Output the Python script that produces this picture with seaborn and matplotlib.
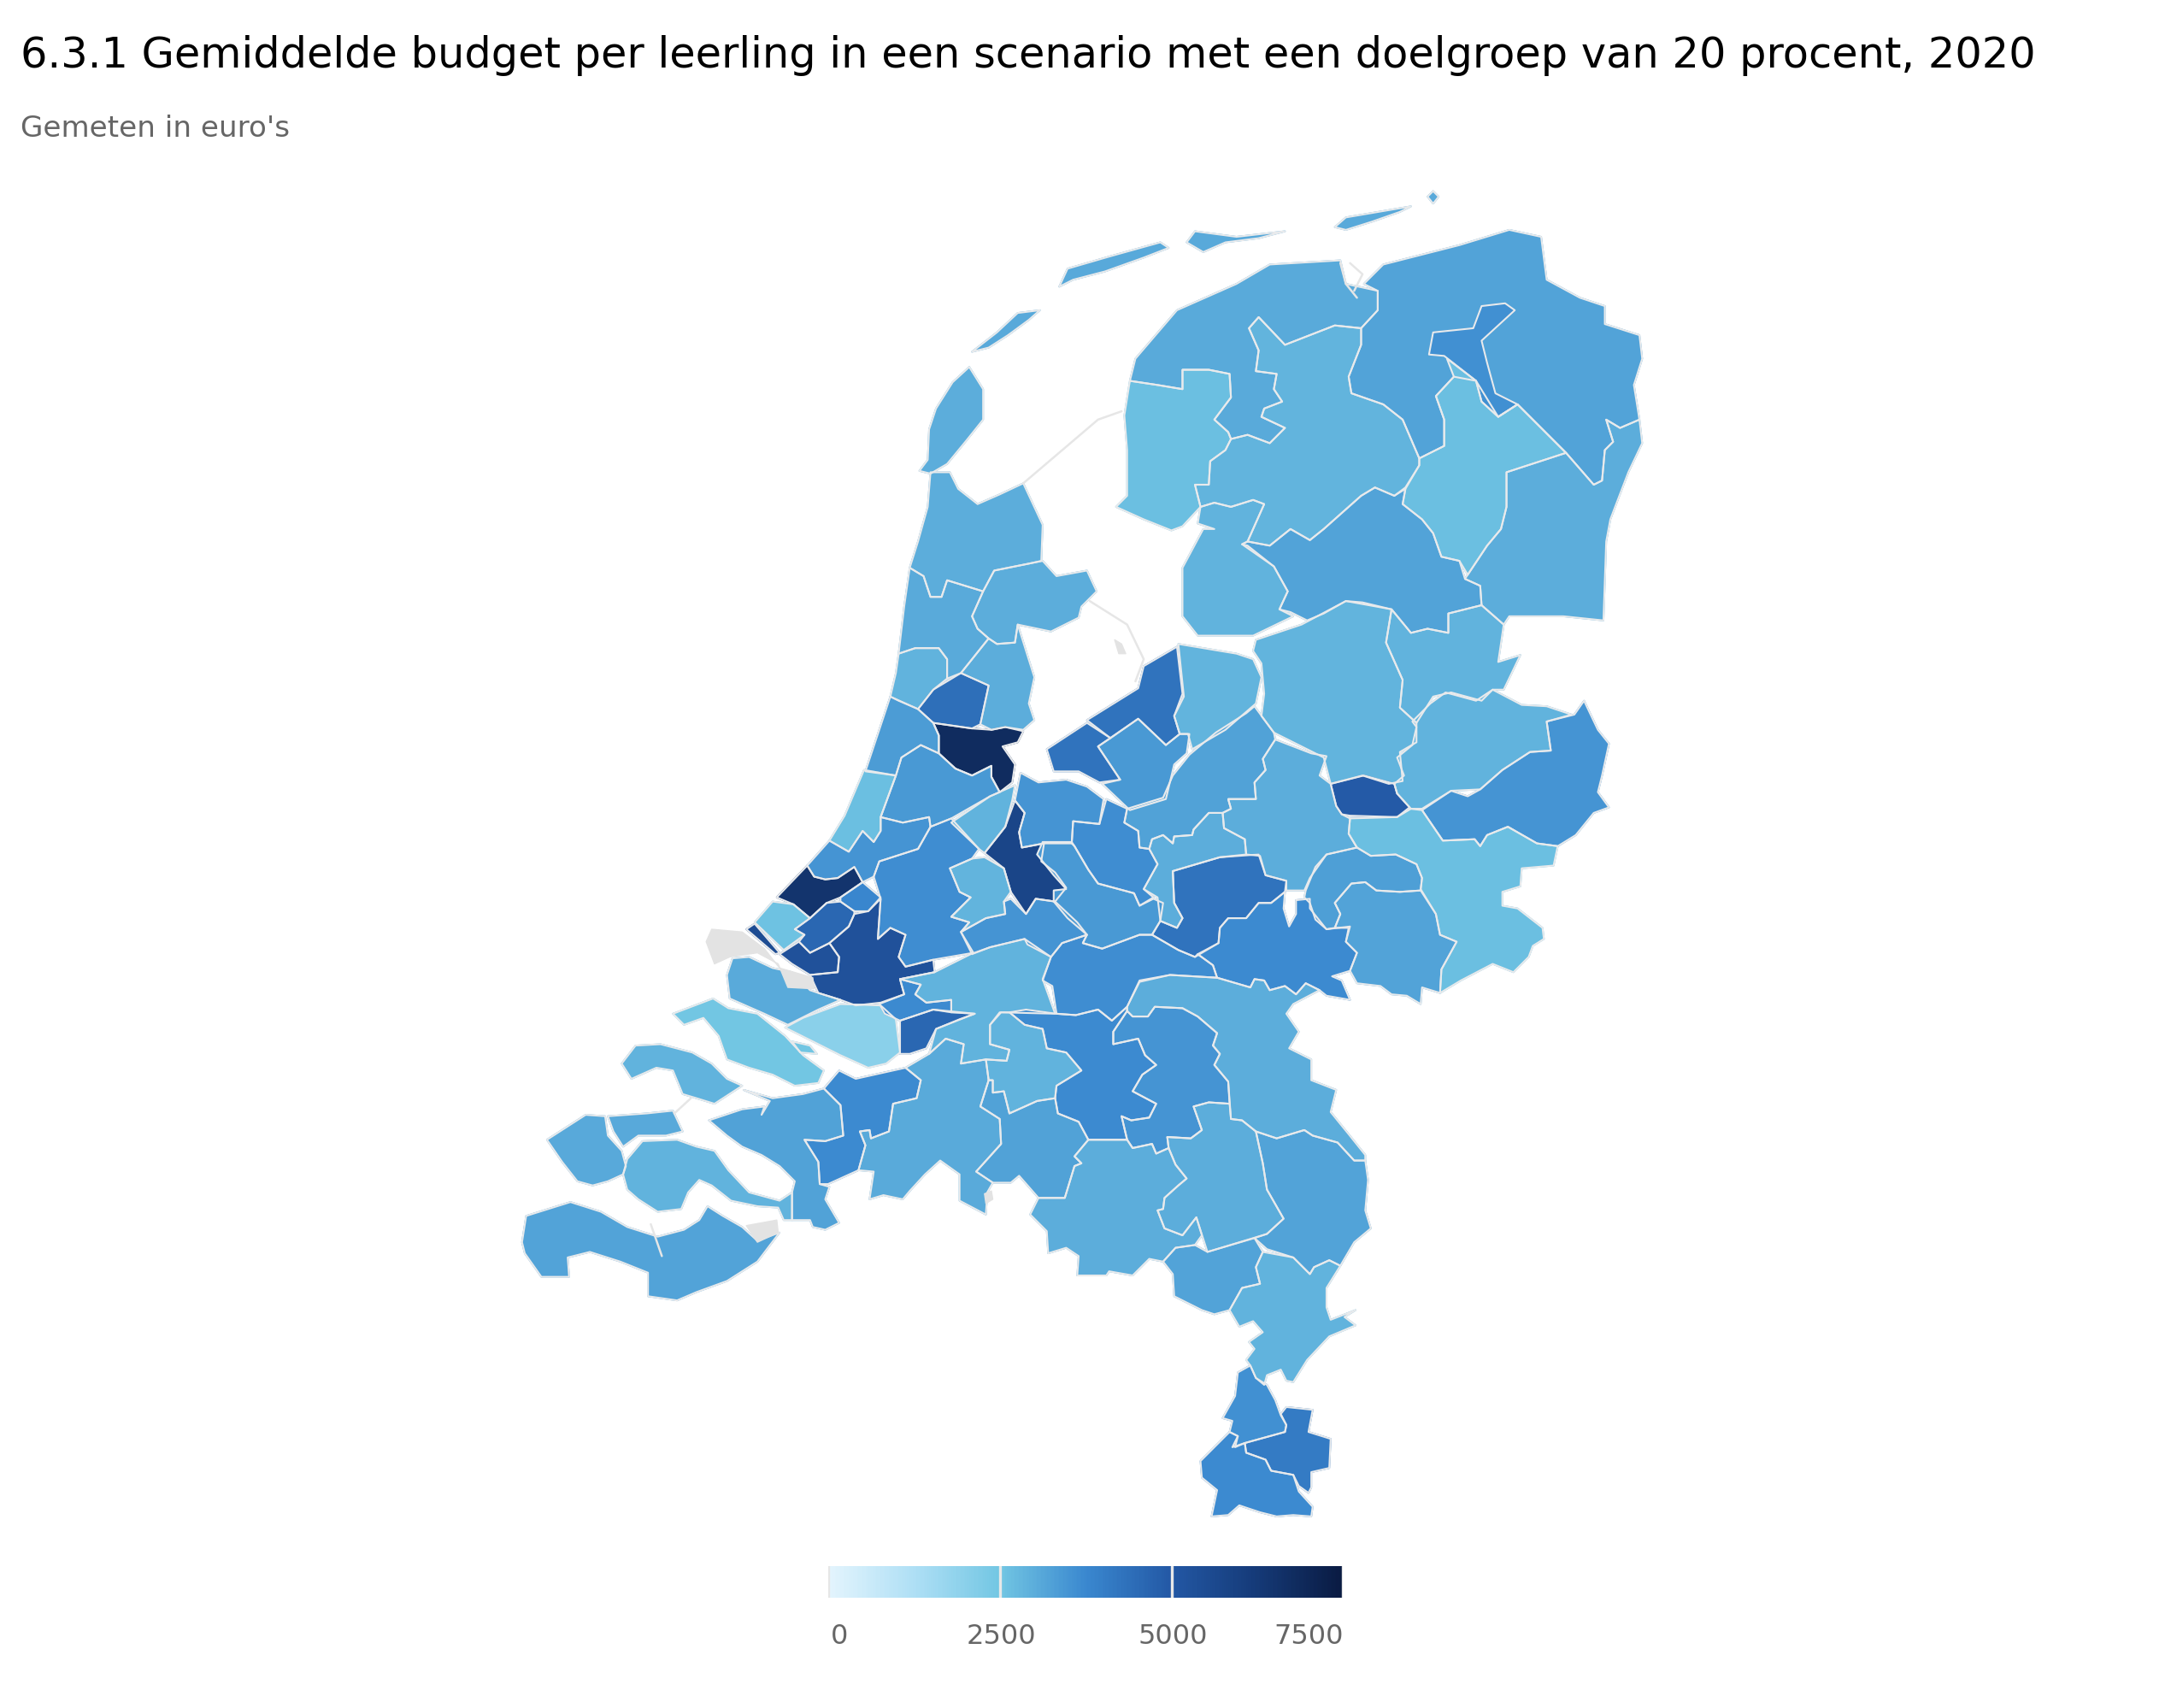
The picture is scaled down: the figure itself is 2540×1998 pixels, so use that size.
import numpy as np
import matplotlib
matplotlib.use("Agg")
import matplotlib.pyplot as plt
from matplotlib.collections import PolyCollection
from matplotlib.colors import Normalize
import seaborn as sns

TITLE = "6.3.1 Gemiddelde budget per leerling in een scenario met een doelgroep van 20 procent, 2020"
SUBTITLE = "Gemeten in euro's"
LEGEND_TICKS = [0, 2500, 5000, 7500]
LEGEND_COLORS = ["#e3f4fd", "#aedff5", "#72c6e3", "#3a88cf", "#2358a5", "#153a78", "#0a1b42"]

# budget per region
REGIONS = [
    "Texel", "Vlieland", "Terschelling", "Ameland", "Schiermonnikoog", "Rottum",
    "Friesland Noord", "Friesland Zuidwest", "Friesland Midden", "Groningen", "Stad Groningen",
    "Drenthe Noord", "Drenthe Zuid", "Zuidwest Drenthe", "Noordoostpolder",
    "Kop van Noord-Holland", "West-Friesland", "Alkmaar", "IJmond", "Waterland", "Zaanstad",
    "Amsterdam", "Haarlem", "Amstelland", "Bollenstreek", "Leiden", "Midden-Holland", "Den Haag",
    "Westland", "Hoek van Holland", "Zoetermeer", "Delft", "Rotterdam", "Vlaardingen", "Voorne",
    "Goeree-Overflakkee", "Tiengemeten", "Schouwen-Duiveland", "Noord-Beveland", "Walcheren", "Veere",
    "Zuid-Beveland", "Zeeuws-Vlaanderen", "West-Brabant", "Roosendaal", "Breda", "Dordrecht",
    "Alblasserwaard", "Gorinchem", "Tilburg", "Oosterhout", "Den Bosch", "Meierij", "Peel",
    "Eindhoven", "Helmond", "Noord-Limburg", "Weert", "Midden-Limburg", "Sittard", "Maastricht",
    "Heerlen", "Lelystad", "Almere", "Zeewolde", "Dronten", "Zwolle", "Veluwe Noord", "Apeldoorn",
    "Deventer", "Hardenberg", "Almelo", "Enschede", "Achterhoek", "Zutphen", "Doetinchem", "Arnhem",
    "Ede", "Barneveld", "Amersfoort", "Utrecht", "Gooi", "Ronde Venen", "Woerden", "Vianen",
    "Heuvelrug", "Tiel",
]
BUDGET = [
    3000, 3100, 3100, 3100, 3100, 3100,
    3050, 2650, 2850, 3200, 3600,
    2650, 3000, 3200, 2900,
    3000, 3000, 3050, 2900, 3000, 4400,
    6800, 3350, 3400, 2650, 3500, 3650, 6500,
    2600, 5500, 3800, 4600, 5300, 5300, 3050,
    2000, 2500, 2500, 2900, 3100, 3100,
    2900, 3200, 3250, 3700, 3050, 4600,
    2900, 3700, 2900, 3250, 3700, 3500, 3000,
    3000, 3000, 3200, 3200, 2900, 3600, 3700,
    4100, 4300, 4300, 3400, 2850, 2850, 3250, 3000,
    4950, 2900, 2900, 3500, 2650, 3300, 3200, 3700,
    4300, 3000, 3650, 5800, 3500, 2900, 2850, 3500,
    3400, 3650,
]

OUTLINES = {
    "Texel": [(700,265),(710,281),(710,303),(698,318),(684,335),(672,342),(664,340),(670,332),(671,310),(676,295),(688,276)],
    "Vlieland": [(702,254),(720,240),(735,226),(751,224),(743,231),(728,242),(714,251)],
    "Terschelling": [(765,207),(771,194),(802,185),(838,175),(844,179),(826,186),(798,196),(775,202)],
    "Ameland": [(857,175),(863,167),(893,171),(928,167),(909,172),(885,175),(869,182)],
    "Schiermonnikoog": [(964,164),(972,157),(1019,149),(1011,153),(991,160),(972,166)],
    "Rottum": [(1031,142),(1035,138),(1039,142),(1035,147)],
    "Friesland Noord": [(816,275),(820,259),(850,224),(893,205),(917,191),(968,188),(972,205),(995,210),(995,224),(983,237),(964,235),(928,249),(909,229),(902,237),(909,253),(907,268),(922,270),(920,281),(926,290),(913,295),(911,301),(928,309),(917,320),(901,314),(889,317),(887,312),(877,303),(889,287),(888,270),(873,267),(854,267),(854,281),(836,278)],
    "Friesland Zuidwest": [(816,275),(836,278),(854,281),(854,267),(873,267),(888,270),(889,287),(877,303),(887,312),(889,317),(885,325),(874,333),(873,350),(863,350),(867,366),(854,380),(846,383),(826,375),(806,366),(814,358),(814,325),(812,300)],
    "Friesland Midden": [(928,249),(964,235),(983,237),(983,249),(974,272),(976,284),(999,292),(1013,303),(1025,331),(1025,336),(1015,352),(1007,358),(993,352),(983,358),(956,382),(946,390),(932,382),(917,394),(901,391),(913,364),(905,361),(889,366),(877,363),(867,366),(863,350),(873,350),(874,333),(885,325),(889,317),(901,314),(917,320),(928,309),(911,301),(913,295),(926,290),(920,281),(922,270),(907,268),(909,253),(902,237),(909,229)],
    "Groningen": [(999,191),(1054,177),(1090,166),(1113,171),(1117,202),(1141,215),(1159,221),(1159,234),(1184,242),(1186,259),(1180,278),(1184,303),(1170,309),(1160,303),(1165,319),(1159,325),(1157,347),(1151,350),(1131,327),(1096,292),(1082,301),(1066,275),(1050,272),(1037,286),(1043,303),(1043,322),(1025,331),(1013,303),(999,292),(976,284),(974,272),(983,249),(983,237),(995,224),(995,210),(985,205)],
    "Stad Groningen": [(1032,256),(1035,240),(1064,237),(1070,221),(1087,219),(1094,224),(1070,246),(1074,262),(1080,284),(1096,292),(1082,301),(1070,290),(1066,275),(1043,257)],
    "Drenthe Noord": [(1045,259),(1066,275),(1070,290),(1082,301),(1096,292),(1131,327),(1088,341),(1088,366),(1084,382),(1074,394),(1060,415),(1054,405),(1041,402),(1035,385),(1027,375),(1013,364),(1015,353),(1025,336),(1025,331),(1043,322),(1043,303),(1037,286),(1050,272)],
    "Drenthe Zuid": [(1131,327),(1151,350),(1157,347),(1159,325),(1165,319),(1160,303),(1170,309),(1184,303),(1186,320),(1176,341),(1163,375),(1160,391),(1158,448),(1129,445),(1090,445),(1086,451),(1070,437),(1069,423),(1058,418),(1060,415),(1074,394),(1084,382),(1088,366),(1088,341)],
    "Zuidwest Drenthe": [(993,352),(1007,358),(1015,353),(1013,364),(1027,375),(1035,385),(1041,402),(1054,405),(1058,418),(1069,423),(1070,437),(1046,443),(1046,457),(1031,454),(1019,457),(1005,440),(984,435),(972,434),(956,443),(944,448),(932,442),(924,440),(930,427),(920,409),(901,394),(897,393),(901,391),(917,394),(932,382),(946,390),(956,382),(983,358)],
    "Noordoostpolder": [(867,366),(877,363),(889,366),(905,361),(913,364),(901,391),(897,393),(920,409),(930,427),(924,440),(934,445),(905,459),(865,459),(854,445),(854,410),(869,382),(877,382),(865,378)],
    "Kop van Noord-Holland": [(672,341),(686,341),(692,353),(706,364),(722,357),(739,349),(753,379),(752,405),(743,407),(718,412),(710,427),(684,419),(680,431),(672,431),(667,416),(657,410),(663,391),(670,366)],
    "West-Friesland": [(718,412),(743,407),(753,405),(763,416),(785,412),(792,427),(781,438),(779,446),(759,456),(735,451),(733,464),(720,465),(714,461),(706,454),(702,445),(710,427)],
    "Alkmaar": [(657,410),(667,416),(672,431),(680,431),(684,419),(710,427),(702,445),(706,454),(714,461),(694,486),(684,490),(684,476),(678,468),(661,468),(649,472),(653,438)],
    "IJmond": [(649,472),(661,468),(678,468),(684,476),(684,490),(674,498),(663,512),(649,506),(643,503),(647,486)],
    "Waterland": [(714,461),(720,465),(733,464),(735,451),(747,489),(743,508),(747,520),(739,527),(726,525),(716,527),(708,523),(714,495),(694,486)],
    "Zaanstad": [(694,486),(714,495),(708,523),(702,526),(674,522),(663,512),(674,498)],
    "Amsterdam": [(674,522),(702,526),(716,527),(726,525),(739,528),(735,536),(724,539),(733,552),(731,565),(722,572),(716,561),(716,553),(702,560),(690,555),(678,544),(678,531)],
    "Haarlem": [(643,503),(663,512),(674,522),(678,531),(678,544),(665,538),(651,547),(647,560),(625,557),(633,533)],
    "Amstelland": [(647,560),(651,547),(665,538),(678,544),(690,555),(702,560),(716,553),(716,561),(722,572),(715,575),(687,591),(672,597),(671,590),(652,594),(636,590)],
    "Bollenstreek": [(624,556),(647,560),(636,590),(636,600),(631,608),(623,600),(613,615),(599,607),(610,589)],
    "Leiden": [(636,590),(652,594),(671,590),(672,597),(663,613),(635,622),(631,633),(623,637),(617,626),(605,634),(596,635),(588,633),(583,625),(599,607),(613,615),(623,600),(631,608),(636,600)],
    "Midden-Holland": [(672,597),(687,591),(707,613),(702,620),(686,627),(693,644),(701,648),(687,662),(700,666),(694,673),(703,688),(674,693),(654,698),(649,691),(654,675),(643,670),(634,678),(636,649),(631,633),(635,622),(663,613)],
    "Den Haag": [(561,648),(583,625),(588,633),(596,635),(605,634),(617,626),(623,637),(607,648),(597,652),(585,663),(573,653)],
    "Westland": [(545,666),(558,651),(573,653),(585,663),(574,671),(581,675),(566,686)],
    "Hoek van Holland": [(539,671),(545,667),(563,688),(560,689)],
    "Zoetermeer": [(607,648),(623,637),(636,648),(627,658),(617,658),(607,651)],
    "Delft": [(574,671),(585,663),(597,652),(607,651),(617,658),(617,660),(613,669),(599,681),(585,688),(577,680),(581,675)],
    "Rotterdam": [(636,649),(634,678),(643,670),(654,675),(649,691),(654,698),(674,693),(675,702),(650,707),(653,718),(636,724),(618,726),(607,722),(591,717),(585,704),(605,702),(606,691),(599,681),(613,669),(617,660),(627,658)],
    "Vlaardingen": [(563,689),(577,680),(585,688),(599,681),(606,691),(605,702),(585,704),(572,696)],
    "Voorne": [(525,704),(529,692),(541,691),(558,699),(572,702),(585,715),(591,717),(607,722),(591,729),(569,740),(552,732),(527,721)],
    "Goeree-Overflakkee": [(567,742),(580,735),(607,725),(636,726),(647,736),(650,760),(640,768),(627,771),(607,762),(585,751)],
    "Tiengemeten": [(572,752),(585,755),(590,761),(578,760)],
    "Schouwen-Duiveland": [(486,732),(515,721),(526,728),(547,732),(567,748),(580,762),(595,773),(591,782),(574,784),(558,776),(541,771),(525,765),(519,748),(508,735),(494,740)],
    "Noord-Beveland": [(449,768),(459,755),(477,754),(500,760),(514,768),(525,779),(536,784),(516,797),(503,793),(493,790),(486,773),(474,771),(456,779)],
    "Walcheren": [(395,823),(423,805),(437,806),(439,820),(449,831),(452,842),(450,848),(439,853),(428,856),(417,853),(406,839)],
    "Veere": [(439,806),(467,804),(486,802),(493,817),(481,820),(461,820),(450,828),(443,817)],
    "Zuid-Beveland": [(453,837),(464,824),(489,823),(503,828),(516,831),(526,845),(541,861),(563,867),(572,861),(572,881),(566,881),(562,872),(547,871),(528,867),(514,856),(505,852),(497,861),(492,873),(475,875),(461,866),(453,859),(450,848)],
    "Zeeuws-Vlaanderen": [(377,897),(380,878),(412,868),(434,875),(453,886),(475,893),(494,888),(505,881),(511,871),(522,878),(536,886),(547,896),(563,890),(547,911),(525,925),(503,933),(489,939),(468,936),(468,919),(448,911),(426,904),(410,908),(411,922),(391,922),(379,905)],
    "West-Brabant": [(512,809),(536,801),(552,799),(550,805),(556,795),(537,787),(558,793),(580,790),(595,786),(607,798),(609,820),(596,824),(581,823),(591,839),(592,855),(599,857),(596,866),(606,883),(596,888),(587,886),(585,881),(572,881),(572,861),(574,853),(563,842),(550,834),(536,828),(525,820)],
    "Roosendaal": [(595,786),(606,773),(618,779),(654,771),(665,780),(662,793),(645,797),(642,817),(629,822),(628,816),(621,817),(625,827),(620,845),(598,855),(592,855),(591,839),(581,823),(596,824),(609,820),(607,798)],
    "Breda": [(671,761),(683,750),(696,754),(694,768),(712,765),(714,780),(708,799),(722,808),(723,826),(705,846),(717,854),(713,861),(712,877),(693,867),(693,848),(679,838),(668,848),(657,860),(652,866),(638,863),(628,866),(631,846),(620,845),(625,827),(621,817),(628,816),(629,822),(642,817),(645,797),(662,793),(665,780),(654,771)],
    "Dordrecht": [(650,737),(674,729),(704,732),(693,736),(676,743),(669,757),(657,761),(650,761)],
    "Alblasserwaard": [(650,707),(675,702),(701,689),(715,684),(740,678),(759,691),(753,707),(762,732),(723,731),(715,740),(715,754),(729,758),(727,766),(712,765),(694,768),(696,754),(683,750),(671,761),(676,743),(704,732),(687,731),(687,722),(669,724),(661,718),(665,711)],
    "Gorinchem": [(635,725),(653,718),(650,707),(665,711),(661,718),(669,724),(687,722),(687,731),(674,729),(650,737),(639,732)],
    "Tilburg": [(715,740),(722,731),(729,731),(740,740),(753,743),(756,757),(770,760),(781,773),(763,784),(762,793),(749,795),(729,804),(725,788),(717,789),(717,780),(714,780),(712,765),(727,766),(729,758),(715,754)],
    "Oosterhout": [(714,780),(717,780),(717,789),(725,788),(729,804),(749,795),(762,793),(764,804),(779,810),(786,823),(776,835),(781,840),(776,842),(769,865),(750,865),(736,849),(730,854),(717,854),(705,846),(723,826),(722,808),(708,799)],
    "Den Bosch": [(729,731),(741,729),(763,732),(777,733),(793,729),(803,737),(814,727),(814,730),(804,745),(804,754),(822,750),(827,762),(835,769),(825,776),(818,788),(835,797),(830,807),(817,809),(810,806),(814,823),(786,823),(779,810),(764,804),(762,793),(763,784),(781,773),(770,760),(756,757),(753,743),(740,740)],
    "Meierij": [(804,754),(804,745),(814,730),(818,734),(829,734),(834,727),(854,728),(865,734),(879,746),(876,755),(881,761),(877,769),(887,781),(888,797),(873,796),(862,799),(868,816),(860,822),(843,821),(844,829),(835,833),(832,826),(818,829),(814,823),(810,806),(817,809),(830,807),(835,797),(818,788),(825,776),(835,769),(827,762),(822,750)],
    "Peel": [(814,727),(823,709),(845,704),(879,706),(903,713),(906,707),(913,708),(917,715),(928,712),(936,718),(943,710),(953,715),(934,725),(929,732),(938,745),(931,757),(947,765),(947,780),(965,787),(961,803),(974,819),(986,834),(986,838),(978,838),(966,825),(948,820),(942,816),(922,822),(907,817),(897,809),(889,808),(887,781),(877,769),(881,761),(876,755),(879,746),(865,734),(854,728),(834,727),(829,734),(818,734),(814,730)],
    "Eindhoven": [(786,823),(814,823),(818,829),(832,826),(835,833),(844,829),(849,841),(857,851),(851,856),(841,865),(840,873),(836,874),(841,887),(854,892),(864,879),(868,892),(863,899),(849,901),(840,911),(830,909),(818,921),(801,918),(799,921),(778,921),(779,907),(770,901),(757,905),(756,889),(744,877),(750,865),(769,865),(776,842),(781,840),(776,835)],
    "Helmond": [(843,821),(860,822),(868,816),(862,799),(873,796),(888,797),(889,808),(897,809),(907,817),(912,840),(915,859),(927,880),(915,891),(872,904),(864,879),(854,892),(841,887),(836,874),(840,873),(841,865),(851,856),(857,851),(849,841),(844,829)],
    "Noord-Limburg": [(907,817),(922,822),(942,816),(948,820),(966,825),(978,838),(986,838),(988,852),(986,874),(990,887),(978,897),(968,914),(960,910),(949,915),(946,920),(934,908),(915,902),(906,894),(915,891),(927,880),(915,859),(912,840)],
    "Weert": [(840,911),(849,901),(863,899),(872,904),(906,894),(912,904),(907,915),(910,927),(897,930),(888,946),(877,949),(868,946),(848,936),(847,920)],
    "Midden-Limburg": [(912,904),(934,908),(946,920),(949,915),(960,910),(968,914),(958,930),(958,944),(961,953),(979,946),(971,951),(979,957),(960,965),(944,982),(934,998),(929,997),(925,989),(915,993),(913,1000),(907,995),(903,986),(900,982),(906,974),(902,969),(912,962),(905,954),(895,958),(888,946),(897,930),(910,927),(907,915)],
    "Sittard": [(894,991),(903,986),(907,995),(915,1000),(921,1011),(925,1022),(929,1029),(928,1034),(899,1042),(892,1045),(894,1037),(888,1034),(890,1026),(883,1024),(892,1008)],
    "Maastricht": [(888,1034),(894,1037),(890,1045),(899,1042),(900,1049),(914,1054),(918,1062),(934,1065),(938,1077),(948,1088),(947,1095),(934,1094),(922,1095),(910,1092),(895,1087),(887,1094),(875,1095),(879,1076),(868,1067),(867,1055),(879,1043)],
    "Heerlen": [(899,1042),(928,1034),(929,1029),(925,1021),(929,1016),(948,1018),(945,1034),(961,1039),(960,1060),(947,1063),(947,1074),(945,1078),(938,1073),(934,1065),(918,1062),(914,1054),(900,1049)],
    "Lelystad": [(785,520),(822,497),(826,481),(850,467),(854,501),(848,517),(852,530),(842,538),(822,519),(802,533)],
    "Almere": [(756,541),(785,522),(802,533),(793,539),(809,563),(794,565),(779,557),(761,557)],
    "Zeewolde": [(793,539),(822,519),(842,538),(852,530),(859,530),(857,544),(848,552),(842,577),(816,585),(796,566),(809,563)],
    "Dronten": [(851,465),(869,468),(893,472),(905,476),(911,489),(907,508),(885,527),(861,541),(858,530),(852,530),(848,517),(855,503)],
    "Zwolle": [(907,462),(940,451),(972,434),(1005,440),(1001,464),(1013,491),(1011,511),(1023,522),(1023,536),(1011,543),(1013,564),(1003,566),(984,560),(961,566),(956,547),(928,533),(920,529),(911,517),(913,501),(911,479),(905,470)],
    "Veluwe Noord": [(906,510),(920,529),(921,534),(912,548),(914,556),(906,565),(907,577),(887,577),(889,584),(883,587),(873,587),(862,599),(861,603),(848,604),(847,609),(840,603),(832,606),(830,613),(823,612),(822,600),(812,594),(814,584),(840,576),(847,560),(859,545),(878,529),(900,515)],
    "Apeldoorn": [(921,534),(947,544),(958,546),(953,560),(961,566),(965,582),(969,588),(975,591),(974,602),(980,612),(958,617),(946,634),(942,643),(929,643),(929,636),(914,632),(910,618),(900,617),(899,606),(884,598),(883,587),(889,584),(887,577),(907,577),(906,565),(914,556),(912,548)],
    "Deventer": [(961,566),(985,560),(1007,566),(1009,573),(1018,583),(1009,590),(975,589),(969,588),(965,582)],
    "Hardenberg": [(1005,440),(1019,457),(1031,454),(1046,457),(1046,443),(1070,437),(1086,451),(1082,478),(1098,473),(1086,498),(1078,498),(1070,506),(1048,500),(1035,503),(1023,522),(1011,511),(1013,491),(1001,464)],
    "Almelo": [(1020,521),(1033,508),(1044,500),(1066,506),(1078,498),(1099,509),(1117,510),(1135,516),(1117,521),(1120,542),(1105,543),(1085,556),(1069,570),(1048,571),(1027,584),(1019,584),(1009,573),(1007,566),(1014,560),(1009,547),(1020,538),(1023,525)],
    "Enschede": [(1027,585),(1048,571),(1060,575),(1069,570),(1085,556),(1105,543),(1120,542),(1117,521),(1137,516),(1144,506),(1154,527),(1162,537),(1157,560),(1154,572),(1162,583),(1151,587),(1138,603),(1125,611),(1110,609),(1089,597),(1074,603),(1069,611),(1065,606),(1042,607)],
    "Achterhoek": [(975,591),(1009,590),(1019,584),(1027,585),(1042,607),(1065,606),(1069,611),(1074,603),(1089,597),(1110,609),(1125,611),(1122,625),(1099,627),(1098,640),(1085,644),(1085,654),(1096,656),(1114,670),(1115,678),(1107,683),(1104,691),(1093,702),(1078,696),(1055,708),(1040,717),(1041,700),(1052,680),(1040,675),(1037,660),(1026,642),(1027,634),(1023,624),(1008,617),(990,618),(980,612),(974,602)],
    "Zutphen": [(943,643),(950,626),(958,617),(980,612),(990,618),(1008,617),(1023,624),(1027,634),(1026,643),(1011,644),(994,643),(986,637),(976,638),(964,652),(968,660),(964,670),(958,671),(950,664),(946,652),(942,648)],
    "Doetinchem": [(964,670),(968,660),(964,652),(976,638),(986,637),(994,643),(1011,644),(1026,643),(1037,660),(1040,675),(1052,680),(1041,700),(1040,717),(1027,713),(1026,725),(1016,719),(1005,718),(997,712),(980,710),(975,701),(980,688),(972,680),(974,670)],
    "Arnhem": [(881,670),(887,663),(900,663),(909,652),(918,652),(928,644),(927,656),(931,669),(936,660),(936,650),(946,649),(946,656),(958,671),(975,669),(972,680),(980,688),(975,701),(962,705),(969,708),(975,722),(958,719),(953,715),(943,710),(936,718),(928,712),(917,715),(913,708),(906,707),(903,713),(879,706),(876,697),(865,689),(880,681)],
    "Ede": [(847,629),(881,619),(909,617),(914,632),(929,636),(928,644),(918,652),(909,652),(900,663),(887,663),(881,670),(880,681),(863,691),(851,686),(832,675),(838,665),(850,670),(854,663),(848,652)],
    "Barneveld": [(830,613),(832,606),(840,603),(847,609),(848,604),(861,603),(862,599),(873,587),(883,587),(884,598),(899,606),(900,617),(881,619),(847,629),(848,652),(854,663),(850,670),(838,665),(836,648),(826,642),(836,624)],
    "Amersfoort": [(775,593),(794,595),(799,577),(814,584),(812,594),(822,600),(823,612),(830,613),(836,624),(826,642),(833,648),(823,654),(819,645),(793,638),(786,628),(776,611),(774,609)],
    "Utrecht": [(733,578),(740,587),(736,601),(738,612),(754,609),(752,622),(762,630),(770,641),(762,651),(748,649),(741,660),(730,644),(725,627),(711,616),(726,597)],
    "Gooi": [(737,558),(750,565),(770,563),(785,568),(797,577),(794,595),(775,593),(774,609),(754,609),(738,612),(736,601),(740,587),(733,578)],
    "Ronde Venen": [(687,594),(715,575),(733,567),(731,578),(726,597),(711,616),(707,613)],
    "Woerden": [(686,627),(702,620),(711,619),(725,627),(730,644),(725,651),(726,660),(712,663),(694,673),(700,666),(687,662),(701,648),(693,644)],
    "Vianen": [(694,673),(712,663),(726,660),(725,651),(730,649),(741,660),(748,649),(762,651),(778,666),(785,675),(767,681),(759,691),(742,682),(740,678),(715,684),(702,689)],
    "Heuvelrug": [(761,651),(771,663),(785,675),(782,681),(796,685),(823,675),(832,675),(838,665),(840,652),(833,649),(823,654),(819,645),(793,638),(786,628),(776,611),(774,608),(753,608),(749,617),(761,632),(770,642),(761,643)],
    "Tiel": [(759,691),(767,681),(785,675),(782,681),(796,685),(823,675),(832,675),(851,686),(863,691),(865,689),(876,697),(879,706),(845,704),(823,708),(814,727),(803,737),(793,729),(777,733),(763,732),(760,712),(753,708)],
}
# grey areas without a value
NO_DATA = [
    [(510,680),(514,671),(536,673),(552,685),(563,699),(587,706),(588,714),(569,713),(562,696),(547,688),(527,691),(516,696)],
    [(539,885),(561,881),(562,890),(547,897)],
    [(711,862),(716,860),(717,866),(712,869)],
    [(805,462),(810,465),(813,472),(808,472)],
]
DIKES = [
    [(739,349),(793,303),(810,297)],
    [(787,434),(814,451),(826,476),(820,492)],
    [(487,804),(499,793)],
    [(470,884),(478,907)],
    [(968,190),(972,205),(980,215)],
    [(975,190),(984,198),(978,210)],
]

sns.set_theme(style="white")
plt.rcParams['font.family'] = ['DejaVu Sans']

cmap = sns.blend_palette(LEGEND_COLORS, as_cmap=True)
norm = Normalize(LEGEND_TICKS[0], LEGEND_TICKS[-1])

W, H = 2540 / 1.62, 1998 / 1.62  # map traced in a 1568 wide frame
fig = plt.figure(figsize=(12.7, 9.99), dpi=200, facecolor="white")
ax = fig.add_axes([0, 0, 1, 1])
ax.set_xlim(0, W)
ax.set_ylim(H, 0)
ax.axis("off")

polys = [OUTLINES[name] for name in REGIONS]
# first pass closes the small slivers between neighbours, second draws the borders
ax.add_collection(PolyCollection(polys, array=np.array(BUDGET), cmap=cmap, norm=norm,
                                 edgecolors="face", linewidths=0.7))
ax.add_collection(PolyCollection(polys, facecolors="none", edgecolors="#e8eaec", linewidths=0.75))
ax.add_collection(PolyCollection(NO_DATA, facecolors="#e3e3e3", edgecolors="#e3e3e3", linewidths=0.5))
for line in DIKES:
    xs, ys = zip(*line)
    ax.plot(xs, ys, color="#e6e6e6", lw=0.9)

ax.text(15, 40, TITLE, fontsize=17.8, color="black", va="center", ha="left")
ax.text(15, 93, SUBTITLE, fontsize=12.3, color="#666666", va="center", ha="left")

# legend
bar_l, bar_r, bar_t, bar_b = 598, 970, 1131, 1154
cax = fig.add_axes([bar_l / W, 1 - bar_b / H, (bar_r - bar_l) / W, (bar_b - bar_t) / H])
gradient = np.linspace(LEGEND_TICKS[0], LEGEND_TICKS[-1], 372).reshape(1, -1)
sns.heatmap(gradient, ax=cax, cmap=cmap, norm=norm, cbar=False, xticklabels=False, yticklabels=False)
for tick, col in zip(LEGEND_TICKS, ["#e6e6e6", "#e8e8e8", "#e8e8e8", "#e6e6e6"]):
    cax.axvline(tick / LEGEND_TICKS[-1] * 372, color=col, lw=1.2)

label_x = [606, 723, 847, 970]
label_ha = ["center", "center", "center", "right"]
for tick, x, ha in zip(LEGEND_TICKS, label_x, label_ha):
    ax.text(x, 1182, str(tick), fontsize=11.5, color="#666666", ha=ha, va="center")

fig.savefig("out.png", dpi=200, facecolor="white")
